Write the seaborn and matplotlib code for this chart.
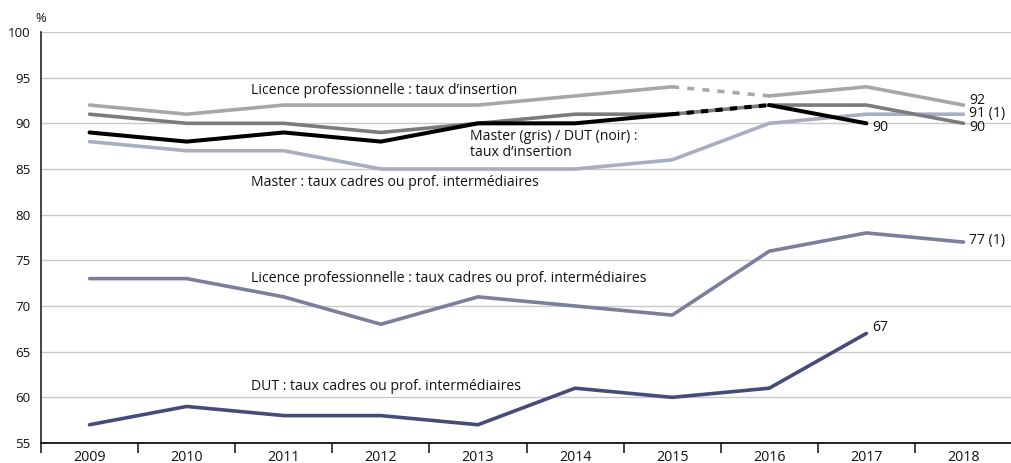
import numpy as np
import pandas as pd
import matplotlib
matplotlib.use("Agg")
import matplotlib.pyplot as plt
import seaborn as sns

years = ["2009", "2010", "2011", "2012", "2013", "2014", "2015", "2016", "2017", "2018"]

lp_insertion = [92, 91, 92, 92, 92, 93, 94, 93, 94, 92]
master_insertion = [91, 90, 90, 89, 90, 91, 91, 92, 92, 90]
dut_insertion = [89, 88, 89, 88, 90, 90, 91, 92, 90, np.nan]
master_cadres = [88, 87, 87, 85, 85, 85, 86, 90, 91, 91]
lp_cadres = [73, 73, 71, 68, 71, 70, 69, 76, 78, 77]
dut_cadres = [57, 59, 58, 58, 57, 61, 60, 61, 67, np.nan]

yticks = [55, 60, 65, 70, 75, 80, 85, 90, 95, 100]

C_LP_INS = "#a7a7a7"
C_MA_INS = "#7b7b7b"
C_DUT_INS = "#000000"
C_MA_CAD = "#a9adc1"
C_LP_CAD = "#7b7f9c"
C_DUT_CAD = "#464c7a"

sns.set_style("white")
plt.rcParams["font.family"] = ["Open Sans", "DejaVu Sans"]

fig = plt.figure(figsize=(10.12, 4.63), dpi=100)
W, H = 1012, 463
ax = fig.add_axes([41 / W, 20 / H, (1012 - 41) / W, 411 / H])

x = np.arange(len(years))
BREAK = 6  # series break between 2015 and 2016 (insertion rates)
LW = 2.6


def draw(values, color, lw=LW, dashes=None, zorder=3):
    """Draw a series; if dashes is given, the 2015-2016 segment is dashed."""
    s = pd.Series(values, dtype=float)
    if dashes is None:
        df = pd.DataFrame({"x": x, "y": s}).dropna()
        sns.lineplot(data=df, x="x", y="y", ax=ax, color=color, lw=lw,
                     zorder=zorder, estimator=None, sort=False)
        return
    pieces = [(0, BREAK + 1, False), (BREAK, BREAK + 2, True), (BREAK + 1, len(x), False)]
    for a, b, dashed in pieces:
        df = pd.DataFrame({"x": x[a:b], "y": s[a:b]}).dropna()
        if len(df) < 2:
            continue
        line = sns.lineplot(data=df, x="x", y="y", ax=ax, color=color, lw=lw,
                            zorder=zorder, estimator=None, sort=False).lines[-1]
        if dashed:
            line.set_linestyle((0, dashes))
            line.set_dash_capstyle("butt")


draw(dut_cadres, C_DUT_CAD)
draw(lp_cadres, C_LP_CAD)
draw(master_cadres, C_MA_CAD)
draw(lp_insertion, C_LP_INS, dashes=(1.95, 2.25))
draw(master_insertion, C_MA_INS)
draw(dut_insertion, C_DUT_INS, lw=2.9, dashes=(1.8, 1.8), zorder=4)

ax.set_xlim(-0.5, len(years) - 0.5)
ax.set_ylim(55, 100)
ax.set_yticks(yticks)
ax.set_yticklabels([str(t) for t in yticks])
ax.yaxis.grid(True, color="#c9c9c9", lw=1.0, zorder=0)
ax.set_axisbelow(True)
ax.set_xlabel("")
ax.set_ylabel("")

# year labels centred, tick marks on the category boundaries
ax.set_xticks(x)
ax.set_xticklabels(years)
ax.set_xticks(np.arange(-0.5, len(years), 1.0), minor=True)
ax.tick_params(axis="x", which="major", bottom=False, length=0, pad=5, labelsize=10.3, colors="#111111")
ax.tick_params(axis="x", which="minor", bottom=True, length=7, width=1.1, color="#111111", direction="out")
ax.tick_params(axis="y", length=0, pad=7.5, labelsize=9.6, colors="#111111")

for side in ["top", "right"]:
    ax.spines[side].set_visible(False)
ax.spines["left"].set_color("#111111")
ax.spines["left"].set_linewidth(1.1)
ax.spines["bottom"].set_color("#111111")
ax.spines["bottom"].set_linewidth(1.3)

fig.text(41 / W, 1 - 18 / H, "%", fontsize=9.3, ha="center", va="center", color="#111111")

fs = 10.1
tc = "#111111"
ax.text(1.66, 93.6, "Licence professionnelle : taux d\u2019insertion", fontsize=fs, color=tc, va="center", ha="left")
ax.text(3.92, 87.7, "Master (gris) / DUT (noir) :\ntaux d\u2019insertion", fontsize=fs, color=tc,
        va="center", ha="left", linespacing=1.1)
ax.text(1.66, 83.5, "Master : taux cadres ou prof. interm\u00e9diaires", fontsize=fs, color=tc, va="center", ha="left")
ax.text(1.66, 73.05, "Licence professionnelle : taux cadres ou prof. interm\u00e9diaires", fontsize=fs, color=tc,
        va="center", ha="left")
ax.text(1.66, 61.15, "DUT : taux cadres ou prof. interm\u00e9diaires", fontsize=fs, color=tc, va="center", ha="left")

# end-of-series values
ax.text(9.06, lp_insertion[9] + 0.55, f"{lp_insertion[9]}", fontsize=fs, color=tc, va="center", ha="left")
ax.text(9.06, master_cadres[9] + 0.1, f"{master_cadres[9]} (1)", fontsize=fs, color=tc, va="center", ha="left")
ax.text(9.06, master_insertion[9] - 0.5, f"{master_insertion[9]}", fontsize=fs, color=tc, va="center", ha="left")
ax.text(8.06, dut_insertion[8] - 0.5, f"{dut_insertion[8]}", fontsize=fs, color=tc, va="center", ha="left")
ax.text(9.06, lp_cadres[9] + 0.2, f"{lp_cadres[9]} (1)", fontsize=fs, color=tc, va="center", ha="left")
ax.text(8.06, dut_cadres[8] + 0.6, f"{dut_cadres[8]}", fontsize=fs, color=tc, va="center", ha="left")

fig.savefig("out.png", dpi=100)
